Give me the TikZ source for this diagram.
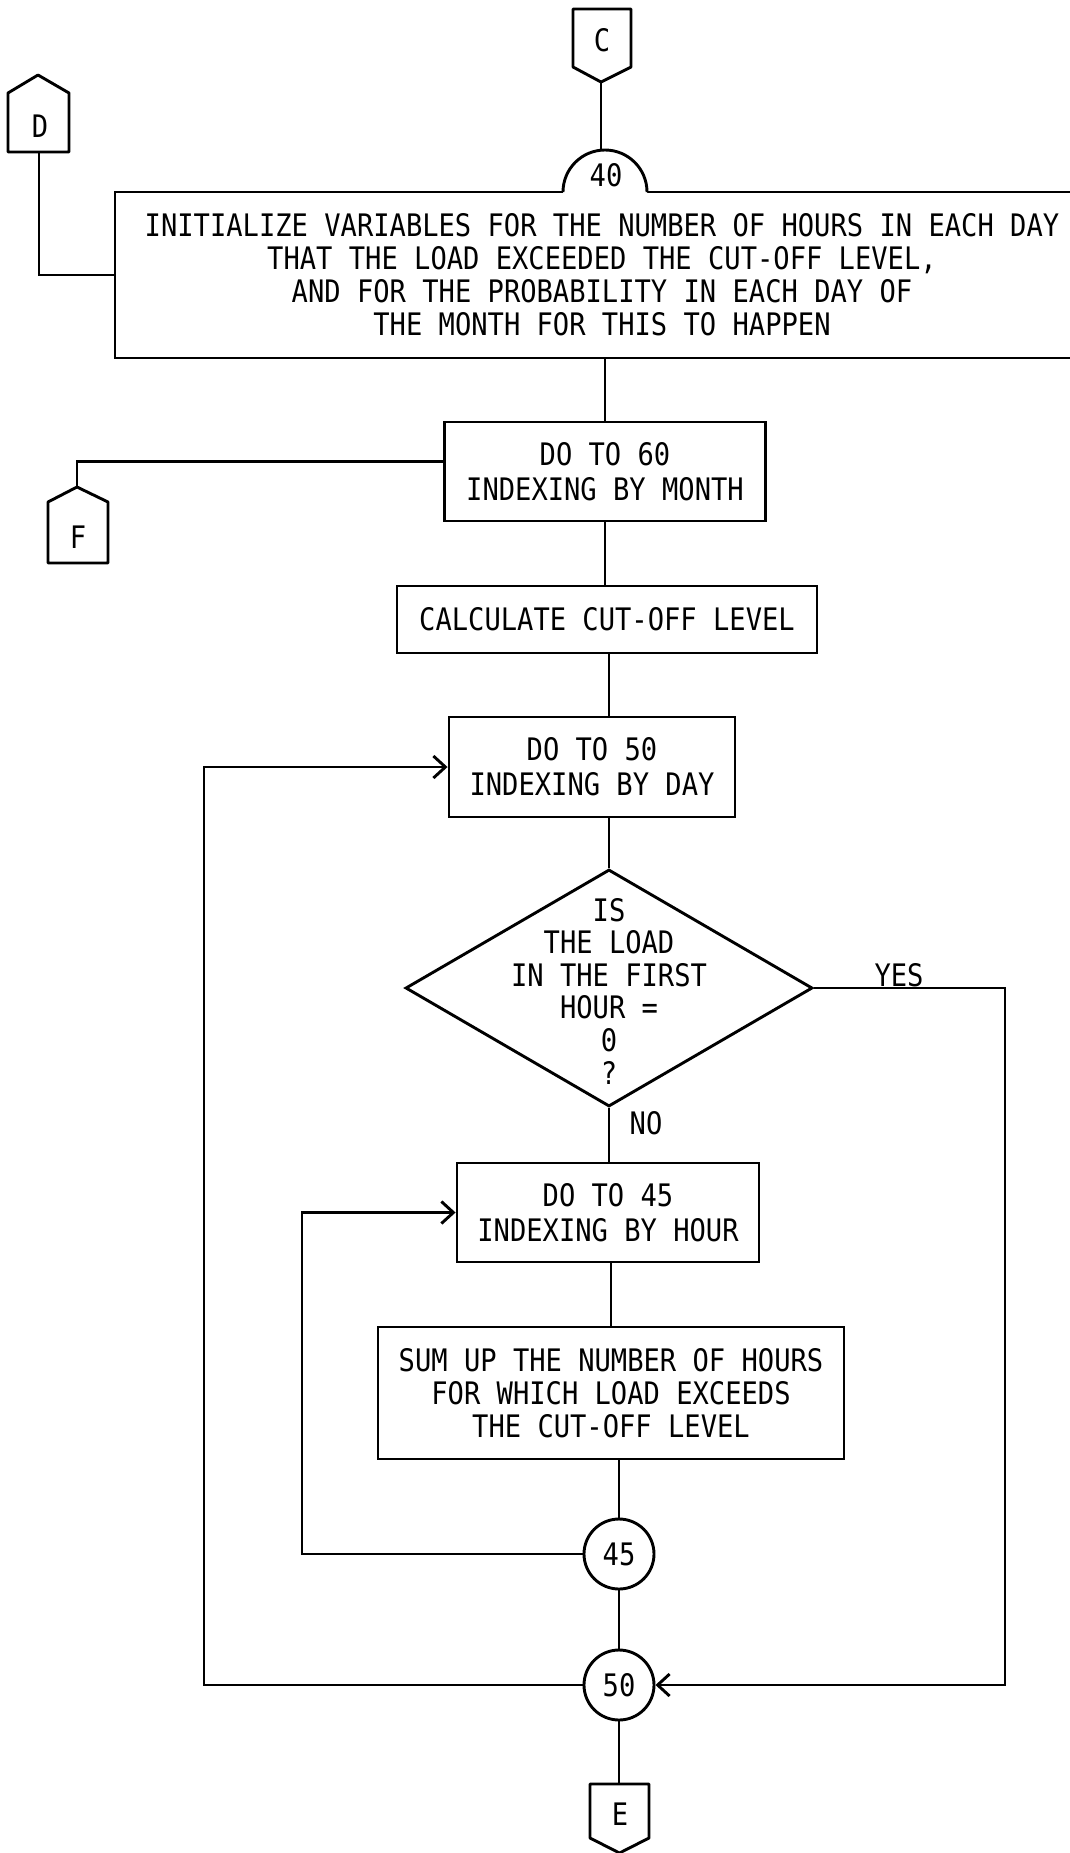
\documentclass[tikz,border=0pt]{standalone}
\usepackage{fontspec}
\newfontfamily\plt[FakeStretch=0.875]{DejaVu Sans Mono}
\usetikzlibrary{arrows.meta,shapes.geometric}
\begin{document}
\begin{tikzpicture}[x=1pt,y=-1pt,
  every node/.style={font={\plt\fontsize{31}{33}\selectfont}, text=black, inner sep=0pt},
  ln/.style={draw=black, line width=2.9pt},
  box/.style={ln, rectangle, align=center},
  twol/.style={font={\plt\fontsize{31}{35}\selectfont}},
  conn/.style={ln, line join=round},
  arr/.style={-{Straight Barb[length=12pt,width=22pt]}}
]
\useasboundingbox (0,0) rectangle (1070,1853);
\fill[white] (0,0) rectangle (1070,1853);

% ---- main boxes ----
\node[box, minimum width=974pt, minimum height=166pt] (init) at (602,275)
  {INITIALIZE VARIABLES FOR THE NUMBER OF HOURS IN EACH DAY\\THAT THE LOAD EXCEEDED THE CUT-OFF LEVEL,\\AND FOR THE PROBABILITY IN EACH DAY OF\\THE MONTH FOR THIS TO HAPPEN};
\node[box, twol, minimum width=321pt, minimum height=99pt] (do60) at (605,471.5) {DO TO 60\\INDEXING BY MONTH};
\node[box, minimum width=420pt, minimum height=67pt] (calc) at (607,619.5) {CALCULATE CUT-OFF LEVEL};
\node[box, twol, minimum width=286pt, minimum height=100pt] (do50) at (592,767) {DO TO 50\\INDEXING BY DAY};
\node[ln, diamond, minimum width=407pt, minimum height=237pt, inner sep=0pt] (dec) at (609,988) {};
\node[align=center, font={\plt\fontsize{31}{32.6}\selectfont}] (dect) at (609,991)
  {IS\\THE LOAD\\IN THE FIRST\\HOUR =\\0\\?};
\node[box, twol, minimum width=302pt, minimum height=99pt] (do45) at (608,1212.5) {DO TO 45\\INDEXING BY HOUR};
\node[box, minimum width=466pt, minimum height=132pt] (sum) at (611,1393)
  {SUM UP THE NUMBER OF HOURS\\FOR WHICH LOAD EXCEEDS\\THE CUT-OFF LEVEL};
\node[ln, circle, minimum size=70pt] (c45) at (619,1554) {45};
\node[ln, circle, minimum size=70pt] (c50) at (619,1685) {50};

% ---- 40 entry arch ----
\fill[white] (563,195) -- (563,192) arc[start angle=180, end angle=0, radius=42pt] -- (647,195) -- cycle;
\draw[ln] (563,192) arc[start angle=180, end angle=0, radius=42pt];
\node (n40) at (606,175) {40};
\coordinate (a40) at (601,151);

% ---- off-page connectors ----
\draw[conn] (573,67) -- (573,9) -- (631,9) -- (631,67) -- (601,82) -- cycle;
\node (C) at (602,40) {C};
\coordinate (Ct) at (601,82);

\draw[conn] (8,93) -- (38,75) -- (69,93) -- (69,152) -- (8,152) -- cycle;
\node (D) at (40,126) {D};
\coordinate (Db) at (39,152);

\draw[conn] (48,502) -- (77,487) -- (108,502) -- (108,563) -- (48,563) -- cycle;
\node (F) at (78,537) {F};
\coordinate (Ft) at (77,487);

\draw[conn] (590,1784) -- (649,1784) -- (649,1838) -- (619.5,1853) -- (590,1838) -- cycle;
\node (E) at (620,1814) {E};
\coordinate (Et) at (619,1784);

% ---- labels ----
\node (yes) at (899,975) {YES};
\node (no) at (646,1123) {NO};

% ---- loop coordinates ----
\coordinate (L45) at (302,0);
\coordinate (L50) at (204,0);
\coordinate (R50) at (1005,0);

% ---- connectors ----
\draw[ln] (Ct) -- (a40);
\draw[ln] (Db) |- (init.west);
\draw[ln] (Ft) |- ([yshift=10pt]do60.west);
\draw[ln] (init.south -| do60.north) -- (do60.north);
\draw[ln] (do60.south) -- (do60.south |- calc.north);
\draw[ln] (calc.south -| dec.north) -- (dec.north |- do50.north);
\draw[ln] (do50.south -| dec.north) -- (dec.north);
\draw[ln] (dec.south) -- (dec.south |- do45.north);
\draw[ln] (do45.south -| sum.north) -- (sum.north);
\draw[ln] (sum.south -| c45.north) -- (c45.north);
\draw[ln] (c45.south) -- (c50.north);
\draw[ln] (c50.south) -- (c50.south |- Et);
\draw[ln, arr] (c45.west) -- (c45.west -| L45) |- (do45.west);
\draw[ln, arr] (c50.west) -- (c50.west -| L50) |- (do50.west);
\draw[ln, arr] (dec.east) -- (dec.east -| R50) |- (c50.east);
\end{tikzpicture}
\end{document}
